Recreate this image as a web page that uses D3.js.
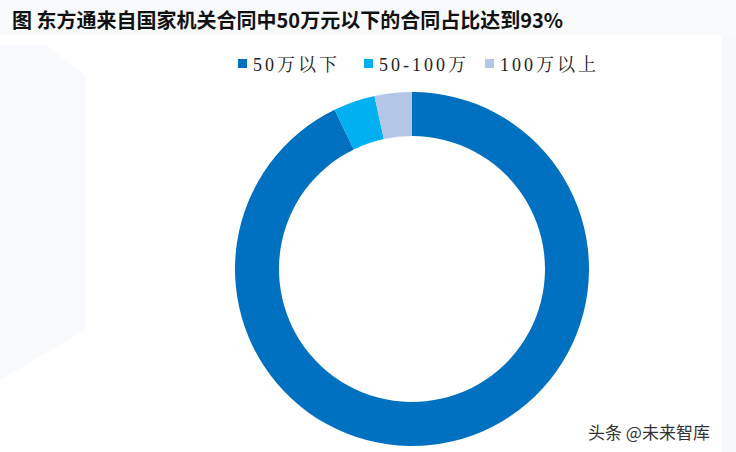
<!DOCTYPE html>
<html><head><meta charset="utf-8">
<script src="https://cdn.jsdelivr.net/npm/d3@7"></script>
<style>
html,body{margin:0;padding:0;background:#fff;}
svg{display:block;}
</style></head>
<body>
<svg id="c" width="736" height="452"></svg>
<script>
const categories = ["50万以下", "50-100万", "100万以上"];
const values = [92.8, 3.8, 3.4];
const colors = ["#0070C0", "#00B0F0", "#B4C7E7"];
const title = "图 东方通来自国家机关合同中50万元以下的合同占比达到93%";
const watermark = "头条 @未来智库";

const svg = d3.select("#c");
// faint background shapes
svg.append("rect").attr("width",736).attr("height",452).attr("fill","#ffffff");
svg.append("path").attr("d","M0,45 L45,45 L85,75 L85,330 L0,380 Z").attr("fill","#f8fafd");
svg.append("rect").attr("x",722).attr("y",35).attr("width",14).attr("height",417).attr("fill","#f6f8fc");
svg.append("rect").attr("x",0).attr("y",0).attr("width",736).attr("height",35).attr("fill","#f8fafc");

svg.append("text").attr("x",12).attr("y",28)
  .attr("font-family","'Noto Sans CJK SC','Noto Sans',sans-serif")
  .attr("font-weight","bold").attr("font-size",20).attr("fill","#111")
  .text(title);

// legend
const legX = [238, 364, 485];
const leg = svg.append("g");
categories.forEach((c,i)=>{
  leg.append("rect").attr("x",legX[i]).attr("y",59).attr("width",9).attr("height",9).attr("fill",colors[i]);
  leg.append("text").attr("x",legX[i]+15).attr("y",71)
    .attr("font-family","'Liberation Serif','Noto Serif CJK SC','Noto Sans CJK SC',serif")
    .attr("font-size",18).attr("letter-spacing",3).attr("fill","#222").text(c);
});

const cx = 412, cy = 269, rO = 177, rI = 133;
const pie = d3.pie().sort(null).value(d=>d)(values);
const arc = d3.arc().innerRadius(rI).outerRadius(rO);
svg.append("g").attr("transform",`translate(${cx},${cy})`)
  .selectAll("path").data(pie).join("path")
  .attr("d",arc).attr("fill",(d,i)=>colors[i]);

svg.append("text").attr("x",588).attr("y",439)
  .attr("font-family","'Noto Sans CJK SC',sans-serif")
  .attr("font-size",17).attr("fill","#333").text(watermark);
</script>
</body></html>
